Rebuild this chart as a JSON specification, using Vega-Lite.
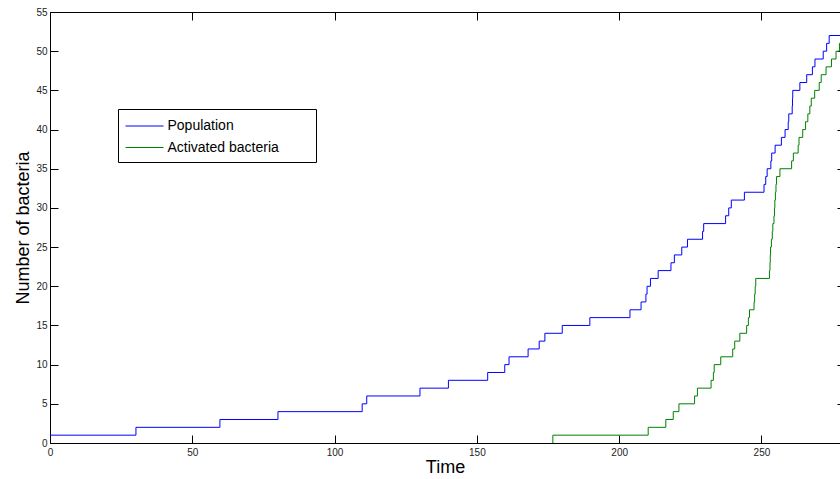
{
  "$schema": "https://vega.github.io/schema/vega-lite/v6.json",
  "width": 790,
  "height": 431,
  "autosize": {"type": "none"},
  "padding": {"left": 50, "top": 12, "right": 0, "bottom": 36},
  "background": "white",
  "config": {"view": {"stroke": null}, "font": "Liberation Sans"},
  "data": {"values": [
    {"t": 0, "n": 1, "series": "Population"},
    {"t": 30.2, "n": 2, "series": "Population"},
    {"t": 59.7, "n": 3, "series": "Population"},
    {"t": 80.1, "n": 4, "series": "Population"},
    {"t": 109.7, "n": 5, "series": "Population"},
    {"t": 111.3, "n": 6, "series": "Population"},
    {"t": 130, "n": 7, "series": "Population"},
    {"t": 140, "n": 8, "series": "Population"},
    {"t": 153.8, "n": 9, "series": "Population"},
    {"t": 159.8, "n": 10, "series": "Population"},
    {"t": 161.3, "n": 11, "series": "Population"},
    {"t": 168, "n": 12, "series": "Population"},
    {"t": 171.9, "n": 13, "series": "Population"},
    {"t": 173.9, "n": 14, "series": "Population"},
    {"t": 180, "n": 15, "series": "Population"},
    {"t": 189.7, "n": 16, "series": "Population"},
    {"t": 203.8, "n": 17, "series": "Population"},
    {"t": 207.7, "n": 18, "series": "Population"},
    {"t": 209.4, "n": 19, "series": "Population"},
    {"t": 209.8, "n": 20, "series": "Population"},
    {"t": 211, "n": 21, "series": "Population"},
    {"t": 213.7, "n": 22, "series": "Population"},
    {"t": 218.2, "n": 23, "series": "Population"},
    {"t": 219.4, "n": 24, "series": "Population"},
    {"t": 222, "n": 25, "series": "Population"},
    {"t": 224, "n": 26, "series": "Population"},
    {"t": 229.3, "n": 27, "series": "Population"},
    {"t": 229.7, "n": 28, "series": "Population"},
    {"t": 237.4, "n": 29, "series": "Population"},
    {"t": 238.5, "n": 30, "series": "Population"},
    {"t": 239.4, "n": 31, "series": "Population"},
    {"t": 244, "n": 32, "series": "Population"},
    {"t": 250.9, "n": 33, "series": "Population"},
    {"t": 251.5, "n": 34, "series": "Population"},
    {"t": 252, "n": 35, "series": "Population"},
    {"t": 253.3, "n": 36, "series": "Population"},
    {"t": 253.6, "n": 37, "series": "Population"},
    {"t": 254.8, "n": 38, "series": "Population"},
    {"t": 257, "n": 39, "series": "Population"},
    {"t": 258.3, "n": 40, "series": "Population"},
    {"t": 259.4, "n": 41, "series": "Population"},
    {"t": 259.6, "n": 42, "series": "Population"},
    {"t": 260.8, "n": 43, "series": "Population"},
    {"t": 260.9, "n": 44, "series": "Population"},
    {"t": 261, "n": 45, "series": "Population"},
    {"t": 263.5, "n": 46, "series": "Population"},
    {"t": 265.9, "n": 47, "series": "Population"},
    {"t": 267.9, "n": 48, "series": "Population"},
    {"t": 268.8, "n": 49, "series": "Population"},
    {"t": 271.7, "n": 50, "series": "Population"},
    {"t": 272.9, "n": 51, "series": "Population"},
    {"t": 273.8, "n": 52, "series": "Population"},
    {"t": 277.6, "n": 52, "series": "Population"},
    {"t": 176.6, "n": 0, "series": "Activated bacteria"},
    {"t": 176.7, "n": 1, "series": "Activated bacteria"},
    {"t": 210.2, "n": 2, "series": "Activated bacteria"},
    {"t": 216.4, "n": 3, "series": "Activated bacteria"},
    {"t": 219, "n": 4, "series": "Activated bacteria"},
    {"t": 221, "n": 5, "series": "Activated bacteria"},
    {"t": 226.5, "n": 6, "series": "Activated bacteria"},
    {"t": 227.5, "n": 7, "series": "Activated bacteria"},
    {"t": 232.3, "n": 8, "series": "Activated bacteria"},
    {"t": 233.1, "n": 9, "series": "Activated bacteria"},
    {"t": 233.4, "n": 10, "series": "Activated bacteria"},
    {"t": 235.7, "n": 11, "series": "Activated bacteria"},
    {"t": 239.9, "n": 12, "series": "Activated bacteria"},
    {"t": 240.6, "n": 13, "series": "Activated bacteria"},
    {"t": 242.4, "n": 14, "series": "Activated bacteria"},
    {"t": 244.8, "n": 15, "series": "Activated bacteria"},
    {"t": 245.4, "n": 16, "series": "Activated bacteria"},
    {"t": 245.8, "n": 17, "series": "Activated bacteria"},
    {"t": 247.4, "n": 18, "series": "Activated bacteria"},
    {"t": 247.6, "n": 19, "series": "Activated bacteria"},
    {"t": 247.8, "n": 20, "series": "Activated bacteria"},
    {"t": 248, "n": 21, "series": "Activated bacteria"},
    {"t": 252.8, "n": 22, "series": "Activated bacteria"},
    {"t": 253, "n": 23, "series": "Activated bacteria"},
    {"t": 253.1, "n": 24, "series": "Activated bacteria"},
    {"t": 253.2, "n": 25, "series": "Activated bacteria"},
    {"t": 253.5, "n": 26, "series": "Activated bacteria"},
    {"t": 253.8, "n": 27, "series": "Activated bacteria"},
    {"t": 254, "n": 28, "series": "Activated bacteria"},
    {"t": 254.4, "n": 29, "series": "Activated bacteria"},
    {"t": 254.6, "n": 30, "series": "Activated bacteria"},
    {"t": 254.7, "n": 31, "series": "Activated bacteria"},
    {"t": 254.9, "n": 32, "series": "Activated bacteria"},
    {"t": 255.1, "n": 33, "series": "Activated bacteria"},
    {"t": 255.3, "n": 34, "series": "Activated bacteria"},
    {"t": 256.5, "n": 35, "series": "Activated bacteria"},
    {"t": 260.6, "n": 36, "series": "Activated bacteria"},
    {"t": 261.2, "n": 37, "series": "Activated bacteria"},
    {"t": 262.9, "n": 38, "series": "Activated bacteria"},
    {"t": 263.2, "n": 39, "series": "Activated bacteria"},
    {"t": 264.5, "n": 40, "series": "Activated bacteria"},
    {"t": 265.5, "n": 41, "series": "Activated bacteria"},
    {"t": 266.3, "n": 42, "series": "Activated bacteria"},
    {"t": 267, "n": 43, "series": "Activated bacteria"},
    {"t": 267.5, "n": 44, "series": "Activated bacteria"},
    {"t": 268.7, "n": 45, "series": "Activated bacteria"},
    {"t": 270.3, "n": 46, "series": "Activated bacteria"},
    {"t": 271, "n": 47, "series": "Activated bacteria"},
    {"t": 272.7, "n": 48, "series": "Activated bacteria"},
    {"t": 274.6, "n": 49, "series": "Activated bacteria"},
    {"t": 276.2, "n": 50, "series": "Activated bacteria"},
    {"t": 277.4, "n": 51, "series": "Activated bacteria"},
    {"t": 277.6, "n": 51, "series": "Activated bacteria"}
  ]},
  "layer": [
    {
      "mark": {"type": "line", "interpolate": "step-after", "strokeWidth": 1, "clip": true},
      "encoding": {
        "x": {
          "field": "t", "type": "quantitative",
          "scale": {"domain": [0, 277.6], "nice": false, "zero": false},
          "axis": {
            "orient": "bottom", "values": [0, 50, 100, 150, 200, 250],
            "tickSize": -8, "tickColor": "#000", "domainColor": "#000",
            "labelPadding": 12, "labelFontSize": 10, "labelColor": "#222",
            "labelFont": "Liberation Sans", "labelFlush": false, "labelOverlap": false,
            "title": "Time", "titleFontSize": 18, "titleFontWeight": "normal",
            "titleColor": "#000", "titleFont": "Liberation Sans", "titlePadding": 1, "grid": false
          }
        },
        "y": {
          "field": "n", "type": "quantitative",
          "scale": {"domain": [0, 55], "nice": false},
          "axis": {
            "orient": "left", "values": [0, 5, 10, 15, 20, 25, 30, 35, 40, 45, 50, 55],
            "tickSize": -8, "tickColor": "#000", "domainColor": "#000",
            "labelPadding": 11, "labelFontSize": 10, "labelColor": "#222",
            "labelFont": "Liberation Sans", "labelFlush": false, "labelOverlap": false,
            "title": "Number of bacteria", "titleFontSize": 18, "titleFontWeight": "normal",
            "titleColor": "#000", "titleFont": "Liberation Sans", "titlePadding": 3, "grid": false
          }
        },
        "color": {
          "field": "series", "type": "nominal",
          "scale": {"domain": ["Population", "Activated bacteria"], "range": ["#0000ff", "#008000"]},
          "legend": {
            "orient": "none", "legendX": 68, "legendY": 97, "title": null,
            "symbolType": "M-2,0H2", "symbolSize": 361, "symbolStrokeWidth": 1,
            "symbolOffset": 9.5,
            "labelFontSize": 14, "labelFont": "Liberation Sans", "labelColor": "#000",
            "labelOffset": 13, "padding": 7, "rowPadding": 4.5,
            "strokeColor": "#000", "fillColor": "#fff",
            "labelExpr": "datum.label + '\u2800\u2800\u2800'"
          }
        }
      }
    },
    {
      "mark": {"type": "point", "opacity": 0},
      "encoding": {
        "x": {
          "field": "t", "type": "quantitative",
          "axis": {
            "orient": "top", "values": [0, 50, 100, 150, 200, 250],
            "tickSize": -8, "tickColor": "#000", "domainColor": "#000",
            "labels": false, "title": null, "grid": false
          }
        },
        "y": {
          "field": "n", "type": "quantitative",
          "axis": {
            "orient": "right", "values": [0, 5, 10, 15, 20, 25, 30, 35, 40, 45, 50, 55],
            "tickSize": -8, "tickColor": "#000", "domain": false, "offset": 5,
            "labels": false, "title": null, "grid": false
          }
        }
      }
    }
  ],
  "resolve": {"axis": {"x": "independent", "y": "independent"}}
}
